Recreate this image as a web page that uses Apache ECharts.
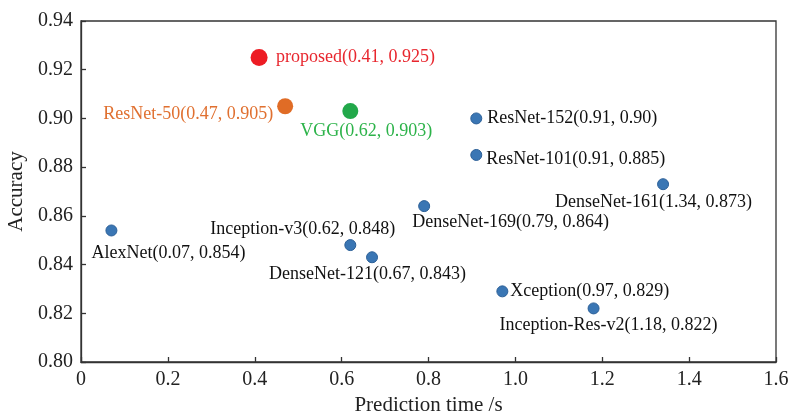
<!DOCTYPE html>
<html><head><meta charset="utf-8">
<script src="https://cdn.jsdelivr.net/npm/echarts@6/dist/echarts.min.js"></script>
<style>html,body{margin:0;padding:0;background:#fff}#c{width:791px;height:413px}</style>
</head><body><div id="c"></div>
<script>
// ---- data ----
const models = ['proposed','ResNet-50','VGG','ResNet-152','ResNet-101','DenseNet-161','DenseNet-169','Inception-v3','AlexNet','DenseNet-121','Xception','Inception-Res-v2'];
const predTime = [0.41,0.47,0.62,0.91,0.91,1.34,0.79,0.62,0.07,0.67,0.97,1.18];
const accuracy = [0.925,0.905,0.903,0.90,0.885,0.873,0.864,0.848,0.854,0.843,0.829,0.822];
const timeLabels = ['0.41','0.47','0.62','0.91','0.91','1.34','0.79','0.62','0.07','0.67','0.97','1.18'];
const accLabels = ['0.925','0.905','0.903','0.90','0.885','0.873','0.864','0.848','0.854','0.843','0.829','0.822'];

// ---- styles (not data) ----
const pointColors = ['#ed1c24','#e06c26','#22a84a','#3a76b4','#3a76b4','#3a76b4','#3a76b4','#3a76b4','#3a76b4','#3a76b4','#3a76b4','#3a76b4'];
const textColors = ['#e8262e','#e07030','#2db34a','#111','#111','#111','#111','#111','#111','#111','#111','#111'];
const sizes = [17,16,16,11,11,11,11,11,11,11,11,11];
// label offsets [dx, dy, align]
const labelPos = [[17,0,'left'],[-12,8,'right'],[-50,20,'left'],[11,0,'left'],[10,4,'left'],[-108,18,'left'],[-12,16,'left'],[-140,-16,'left'],[-20,23,'left'],[-103,17,'left'],[8,0,'left'],[-94,17,'left']];

const FONT = 'Liberation Serif';
const data = models.map((m,i)=>({
  name:m,
  value:[predTime[i],accuracy[i]],
  symbolSize:sizes[i],
  itemStyle:{color:pointColors[i], borderColor: i>2 ? '#2b5f97' : pointColors[i], borderWidth: i>2?1:0, opacity:1},
  label:{show:true, position:'inside', offset:[labelPos[i][0],labelPos[i][1]], align:labelPos[i][2], verticalAlign:'middle',
    formatter: m+'('+timeLabels[i]+', '+accLabels[i]+')', color:textColors[i], fontFamily:FONT, fontSize:18}
}));

const chart = echarts.init(document.getElementById('c'));
chart.setOption({
  animation:false,
  grid:{left:81,right:15,top:21,bottom:51,outerBoundsMode:'none',containLabel:false,show:true,borderColor:'#333',borderWidth:1.3,backgroundColor:'transparent'},
  xAxis:{type:'value',min:0,max:1.6,interval:0.2,
    name:'Prediction time /s',nameLocation:'middle',nameGap:25,
    nameTextStyle:{fontFamily:FONT,fontSize:21,color:'#222'},
    axisLine:{lineStyle:{color:'#333',width:1.3}},
    axisTick:{inside:true,length:5,lineStyle:{color:'#333',width:1.3}},
    splitLine:{show:false},
    axisLabel:{margin:8,fontFamily:FONT,fontSize:20,color:'#222',formatter:v=>v===0?'0':v.toFixed(1)}},
  yAxis:{type:'value',min:0.80,max:0.94,interval:0.02,
    name:'Accuracy',nameLocation:'middle',nameGap:53,nameRotate:90,
    nameTextStyle:{fontFamily:FONT,fontSize:21,color:'#222'},
    axisLine:{show:true,lineStyle:{color:'#333',width:1.3}},
    axisTick:{show:true,inside:true,length:5,lineStyle:{color:'#333',width:1.3}},
    splitLine:{show:false},
    axisLabel:{margin:8,fontFamily:FONT,fontSize:20,color:'#222',formatter:v=>v.toFixed(2)}},
  series:[{type:'scatter',data:data}]
});
</script></body></html>
